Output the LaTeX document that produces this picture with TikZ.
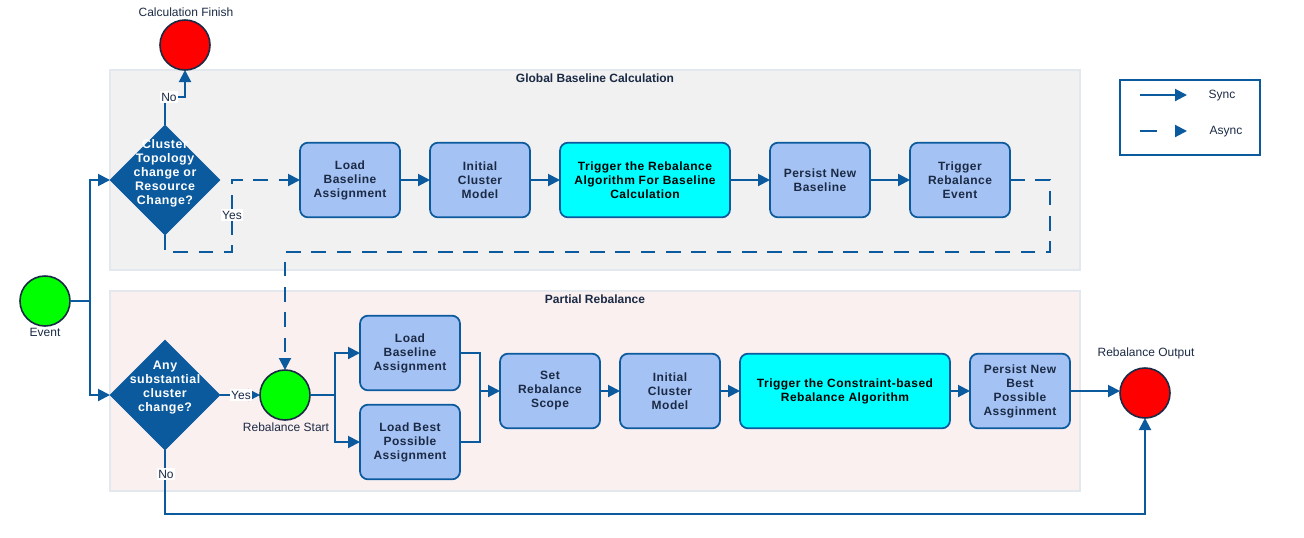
\documentclass[tikz,border=0pt]{standalone}
\usepackage{fontspec}
\setmainfont{Liberation Sans}
\newfontfamily\boxfont[LetterSpace=4]{Liberation Sans}
\usetikzlibrary{arrows.meta,shapes.geometric}
\definecolor{dblue}{HTML}{0B5A9E}
\definecolor{boxfill}{HTML}{A4C2F4}
\definecolor{navy}{HTML}{1B2A44}
\definecolor{panelgray}{HTML}{F1F1F1}
\definecolor{panelpink}{HTML}{FBF0F0}
\definecolor{paneledge}{HTML}{E3E7EE}
\definecolor{cyanbox}{HTML}{00FFFF}
\begin{document}
\begin{tikzpicture}[x=0.75pt,y=-0.75pt,
  panel/.style={draw=paneledge, line width=1pt, rectangle, inner sep=0pt, outer sep=0pt},
  ttl/.style={font=\fontsize{9}{10.5}\selectfont\bfseries, text=navy},
  lbl/.style={font=\fontsize{9}{10.5}\selectfont, text=navy},
  yn/.style={font=\fontsize{9}{10.5}\selectfont, text=navy, fill=white, inner sep=1pt},
  evt/.style={circle, draw=navy, line width=1.2pt, minimum size=37.5pt, inner sep=0pt, outer sep=0pt},
  stepbox/.style={rectangle, rounded corners=6pt, draw=dblue, line width=1.3pt, fill=boxfill,
     minimum width=75pt, minimum height=56pt, inner sep=2pt, outer sep=0pt, align=center,
     text=navy, font=\boxfont\fontsize{9}{10.5}\selectfont\bfseries},
  cyanstep/.style={stepbox, fill=cyanbox, text=black},
  decision/.style={diamond, aspect=1, fill=dblue, draw=dblue, minimum width=82.5pt, minimum height=82.5pt, inner sep=0pt, outer sep=0pt},
  dtext/.style={align=center, text=white, font=\boxfont\fontsize{9.3}{10.5}\selectfont\bfseries},
  sync/.style={draw=dblue, line width=1.5pt, -{Triangle[length=9pt,width=9pt]}},
  plain/.style={draw=dblue, line width=1.5pt},
  async/.style={draw=dblue, line width=1.5pt, dash pattern=on 11pt off 8pt, -{Triangle[length=9pt,width=9pt]}}
]
\useasboundingbox (0,0) rectangle (1304,537);

% panels
\node[panel, fill=panelgray, minimum width=727.5pt, minimum height=150pt] (gpanel) at (595,170) {};
\node[ttl] (gtitle) at (595,78) {Global Baseline Calculation};
\node[panel, fill=panelpink, minimum width=727.5pt, minimum height=150pt] (ppanel) at (595,391) {};
\node[ttl] (ptitle) at (595,299) {Partial Rebalance};

% legend
\node[draw=dblue, line width=1.5pt, minimum width=105pt, minimum height=56.25pt, inner sep=0pt] (legend) at (1190,117.5) {};
\coordinate (ls1) at (1140,95);
\coordinate (ls2) at (1187,95);
\draw[sync] (ls1) -- (ls2);
\node[lbl] (synclbl) at (1222,96) {Sync};
\coordinate (la1) at (1140,131);
\coordinate (la2) at (1187,131);
\draw[draw=dblue, line width=1.5pt, dash pattern=on 13pt off 40pt, -{Triangle[length=9pt,width=9pt]}] (la1) -- (la2);
\node[lbl] (asynclbl) at (1226,132) {Async};

% events
\node[evt, fill=green] (event) at (45,301) {};
\node[lbl] (eventlbl) at (45,332) {Event};
\node[evt, fill=red] (calcfin) at (185,45) {};
\node[lbl] (calcfinlbl) at (186,12) {Calculation Finish};
\node[evt, fill=green] (rstart) at (285,395) {};
\node[lbl] (rstartlbl) at (286,427) {Rebalance Start};
\node[evt, fill=red] (rout) at (1145,393) {};
\node[lbl] (routlbl) at (1146,353) {Rebalance Output};

% decisions
\node[decision] (d1) at (165,180) {};
\node[dtext] (d1t) at (165,173) {Cluster\\Topology\\change or\\Resource\\Change?};
\node[decision] (d2) at (165,395) {};
\node[dtext] (d2t) at (165,388) {Any\\substantial\\cluster\\change?};

% top row
\node[stepbox] (lb1) at (350,180) {Load\\Baseline\\Assignment};
\node[stepbox] (icm1) at (480,180) {Initial\\Cluster\\Model};
\node[cyanstep, minimum width=127.5pt] (trg1) at (645,180) {Trigger the Rebalance\\Algorithm For Baseline\\Calculation};
\node[stepbox] (pnb) at (820,180) {Persist New\\Baseline};
\node[stepbox] (tre) at (960,180) {Trigger\\Rebalance\\Event};

% bottom row
\node[stepbox] (lb2) at (410,353) {Load\\Baseline\\Assignment};
\node[stepbox] (lbp) at (410,442) {Load Best\\Possible\\Assignment};
\node[stepbox] (srs) at (550,391) {Set\\Rebalance\\Scope};
\node[stepbox] (icm2) at (670,391) {Initial\\Cluster\\Model};
\node[cyanstep, minimum width=157.5pt] (trg2) at (845,391) {Trigger the Constraint-based\\Rebalance Algorithm};
\node[stepbox] (pnbp) at (1020,391) {Persist New\\Best\\Possible\\Assginment};

% event fan-out
\coordinate (e1) at (90,301);
\draw[plain] (event.east) -- (e1);
\draw[sync] (e1) |- (d1.west);
\draw[sync] (e1) |- (d2.west);

% decision 1
\coordinate (n1) at (165,97);
\draw[sync] (d1.north) -- (n1) -| (calcfin.south);
\node[yn] (no1) at (169,97) {No};
\coordinate (y1) at (232,252);
\coordinate (y2) at (232,180);
\draw[async] (d1.south) |- (y1) -- (y2) -- (lb1.west);
\node[yn] (yes1) at (232,215) {Yes};

% top row flow
\draw[sync] (lb1) -- (icm1);
\draw[sync] (icm1) -- (trg1);
\draw[sync] (trg1) -- (pnb);
\draw[sync] (pnb) -- (tre);
\coordinate (a2) at (1050,252);
\draw[async] (tre.east) -| (a2) -| (rstart.north);

% decision 2
\draw[sync] (d2.east) -- (rstart.west);
\node[yn] (yes2) at (241,395) {Yes};
\coordinate (n2) at (165,514);
\draw[sync] (d2.south) -- (n2) -| (rout.south);
\node[yn] (no2) at (166,474) {No};

% bottom row flow
\coordinate (s1) at (335,395);
\draw[plain] (rstart.east) -- (s1);
\draw[sync] (s1) |- (lb2.west);
\draw[sync] (s1) |- (lbp.west);
\coordinate (m1) at (480,391);
\draw[plain] (lb2.east) -| (m1);
\draw[plain] (lbp.east) -| (m1);
\draw[sync] (m1) -- (srs.west);
\draw[sync] (srs) -- (icm2);
\draw[sync] (icm2) -- (trg2);
\draw[sync] (trg2) -- (pnbp);
\draw[sync] (pnbp.east) -- (pnbp.east -| rout.west);
\end{tikzpicture}
\end{document}
